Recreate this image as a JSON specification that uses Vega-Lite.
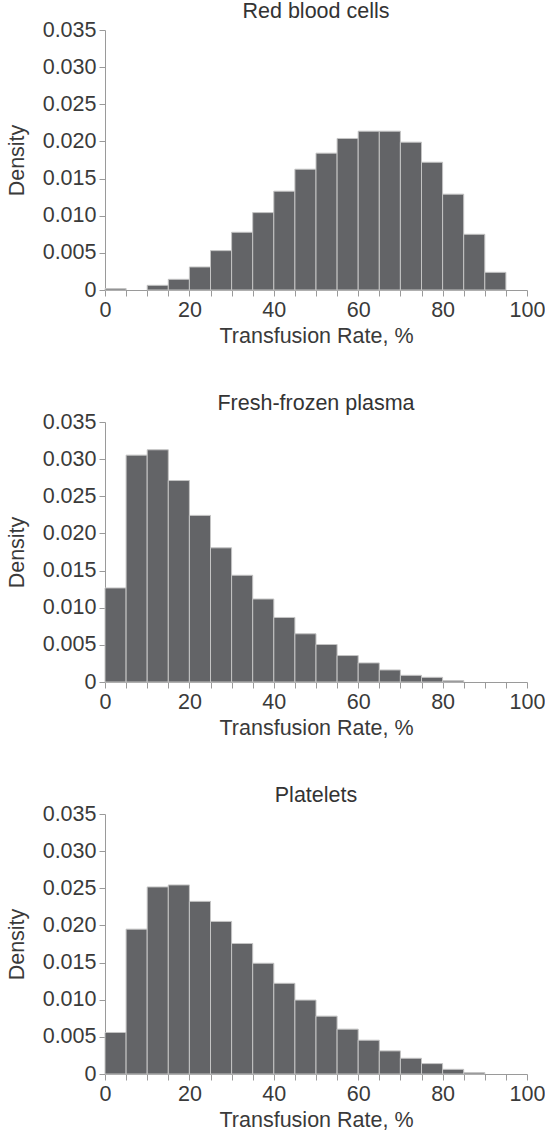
{
  "$schema": "https://vega.github.io/schema/vega-lite/v6.json",
  "background": "white",
  "padding": {"left": 6, "top": 0, "right": 0, "bottom": 0},
  "spacing": 45,
  "config": {
    "font": "Liberation Sans",
    "view": {"stroke": null},
    "title": {"font": "Liberation Sans", "fontSize": 21.5, "fontWeight": "normal", "color": "#333333", "offset": -3},
    "axis": {
      "labelFont": "Liberation Sans", "labelFontSize": 21.5, "labelColor": "#3a3a3a",
      "titleFont": "Liberation Sans", "titleFontSize": 21.5, "titleFontWeight": "normal", "titleColor": "#3a3a3a",
      "domainColor": "#9a9a9a", "tickColor": "#9a9a9a", "tickSize": 6, "grid": false, "labelPadding": 3
    },
    "axisY": {"titlePadding": 14},
    "axisX": {"titlePadding": 5},
    "bar": {"fill": "#636467", "stroke": "#c4c4c4", "strokeWidth": 1}
  },
  "datasets": {
    "hist": [
      {"panel": "rbc", "bin_start": 0, "bin_end": 5, "density": 0.0002},
      {"panel": "rbc", "bin_start": 10, "bin_end": 15, "density": 0.00063},
      {"panel": "rbc", "bin_start": 15, "bin_end": 20, "density": 0.00144},
      {"panel": "rbc", "bin_start": 20, "bin_end": 25, "density": 0.0031},
      {"panel": "rbc", "bin_start": 25, "bin_end": 30, "density": 0.0053},
      {"panel": "rbc", "bin_start": 30, "bin_end": 35, "density": 0.00777},
      {"panel": "rbc", "bin_start": 35, "bin_end": 40, "density": 0.01042},
      {"panel": "rbc", "bin_start": 40, "bin_end": 45, "density": 0.0133},
      {"panel": "rbc", "bin_start": 45, "bin_end": 50, "density": 0.01626},
      {"panel": "rbc", "bin_start": 50, "bin_end": 55, "density": 0.01842},
      {"panel": "rbc", "bin_start": 55, "bin_end": 60, "density": 0.0204},
      {"panel": "rbc", "bin_start": 60, "bin_end": 65, "density": 0.02138},
      {"panel": "rbc", "bin_start": 65, "bin_end": 70, "density": 0.02138},
      {"panel": "rbc", "bin_start": 70, "bin_end": 75, "density": 0.0199},
      {"panel": "rbc", "bin_start": 75, "bin_end": 80, "density": 0.0172},
      {"panel": "rbc", "bin_start": 80, "bin_end": 85, "density": 0.0129},
      {"panel": "rbc", "bin_start": 85, "bin_end": 90, "density": 0.0075},
      {"panel": "rbc", "bin_start": 90, "bin_end": 95, "density": 0.00238},
      {"panel": "ffp", "bin_start": 0, "bin_end": 5, "density": 0.01266},
      {"panel": "ffp", "bin_start": 5, "bin_end": 10, "density": 0.03054},
      {"panel": "ffp", "bin_start": 10, "bin_end": 15, "density": 0.03126},
      {"panel": "ffp", "bin_start": 15, "bin_end": 20, "density": 0.02712},
      {"panel": "ffp", "bin_start": 20, "bin_end": 25, "density": 0.02243},
      {"panel": "ffp", "bin_start": 25, "bin_end": 30, "density": 0.01806},
      {"panel": "ffp", "bin_start": 30, "bin_end": 35, "density": 0.01437},
      {"panel": "ffp", "bin_start": 35, "bin_end": 40, "density": 0.01117},
      {"panel": "ffp", "bin_start": 40, "bin_end": 45, "density": 0.00869},
      {"panel": "ffp", "bin_start": 45, "bin_end": 50, "density": 0.00649},
      {"panel": "ffp", "bin_start": 50, "bin_end": 55, "density": 0.00505},
      {"panel": "ffp", "bin_start": 55, "bin_end": 60, "density": 0.00356},
      {"panel": "ffp", "bin_start": 60, "bin_end": 65, "density": 0.00257},
      {"panel": "ffp", "bin_start": 65, "bin_end": 70, "density": 0.00162},
      {"panel": "ffp", "bin_start": 70, "bin_end": 75, "density": 0.0009},
      {"panel": "ffp", "bin_start": 75, "bin_end": 80, "density": 0.00063},
      {"panel": "ffp", "bin_start": 80, "bin_end": 85, "density": 0.00018},
      {"panel": "plt", "bin_start": 0, "bin_end": 5, "density": 0.00559},
      {"panel": "plt", "bin_start": 5, "bin_end": 10, "density": 0.0195},
      {"panel": "plt", "bin_start": 10, "bin_end": 15, "density": 0.02518},
      {"panel": "plt", "bin_start": 15, "bin_end": 20, "density": 0.02545},
      {"panel": "plt", "bin_start": 20, "bin_end": 25, "density": 0.02324},
      {"panel": "plt", "bin_start": 25, "bin_end": 30, "density": 0.02054},
      {"panel": "plt", "bin_start": 30, "bin_end": 35, "density": 0.01757},
      {"panel": "plt", "bin_start": 35, "bin_end": 40, "density": 0.01491},
      {"panel": "plt", "bin_start": 40, "bin_end": 45, "density": 0.01221},
      {"panel": "plt", "bin_start": 45, "bin_end": 50, "density": 0.00995},
      {"panel": "plt", "bin_start": 50, "bin_end": 55, "density": 0.00779},
      {"panel": "plt", "bin_start": 55, "bin_end": 60, "density": 0.00604},
      {"panel": "plt", "bin_start": 60, "bin_end": 65, "density": 0.00455},
      {"panel": "plt", "bin_start": 65, "bin_end": 70, "density": 0.00311},
      {"panel": "plt", "bin_start": 70, "bin_end": 75, "density": 0.00212},
      {"panel": "plt", "bin_start": 75, "bin_end": 80, "density": 0.0014},
      {"panel": "plt", "bin_start": 80, "bin_end": 85, "density": 0.00063},
      {"panel": "plt", "bin_start": 85, "bin_end": 90, "density": 0.00018}
    ]
  },
  "vconcat": [
    {
      "title": "Red blood cells",
      "width": 422, "height": 260,
      "data": {"name": "hist"},
      "transform": [{"filter": "datum.panel === 'rbc'"}],
      "mark": {"type": "bar"},
      "encoding": {
        "x": {"field": "bin_start", "type": "quantitative", "scale": {"domain": [0, 100], "nice": false},
              "axis": {"title": "Transfusion Rate, %", "values": [0,5,10,15,20,25,30,35,40,45,50,55,60,65,70,75,80,85,90,95,100],
                       "labelExpr": "datum.value % 20 === 0 ? datum.label : ''", "labelFlush": false}},
        "x2": {"field": "bin_end"},
        "y": {"field": "density", "type": "quantitative", "scale": {"domain": [0, 0.035], "nice": false},
              "axis": {"title": "Density", "values": [0,0.005,0.01,0.015,0.02,0.025,0.03,0.035],
                       "labelExpr": "datum.value === 0 ? '0' : format(datum.value, '.3f')", "labelFlush": false}},
        "y2": {"datum": 0}
      }
    },
    {
      "title": "Fresh-frozen plasma",
      "width": 422, "height": 260,
      "data": {"name": "hist"},
      "transform": [{"filter": "datum.panel === 'ffp'"}],
      "mark": {"type": "bar"},
      "encoding": {
        "x": {"field": "bin_start", "type": "quantitative", "scale": {"domain": [0, 100], "nice": false},
              "axis": {"title": "Transfusion Rate, %", "values": [0,5,10,15,20,25,30,35,40,45,50,55,60,65,70,75,80,85,90,95,100],
                       "labelExpr": "datum.value % 20 === 0 ? datum.label : ''", "labelFlush": false}},
        "x2": {"field": "bin_end"},
        "y": {"field": "density", "type": "quantitative", "scale": {"domain": [0, 0.035], "nice": false},
              "axis": {"title": "Density", "values": [0,0.005,0.01,0.015,0.02,0.025,0.03,0.035],
                       "labelExpr": "datum.value === 0 ? '0' : format(datum.value, '.3f')", "labelFlush": false}},
        "y2": {"datum": 0}
      }
    },
    {
      "title": "Platelets",
      "width": 422, "height": 260,
      "data": {"name": "hist"},
      "transform": [{"filter": "datum.panel === 'plt'"}],
      "mark": {"type": "bar"},
      "encoding": {
        "x": {"field": "bin_start", "type": "quantitative", "scale": {"domain": [0, 100], "nice": false},
              "axis": {"title": "Transfusion Rate, %", "values": [0,5,10,15,20,25,30,35,40,45,50,55,60,65,70,75,80,85,90,95,100],
                       "labelExpr": "datum.value % 20 === 0 ? datum.label : ''", "labelFlush": false}},
        "x2": {"field": "bin_end"},
        "y": {"field": "density", "type": "quantitative", "scale": {"domain": [0, 0.035], "nice": false},
              "axis": {"title": "Density", "values": [0,0.005,0.01,0.015,0.02,0.025,0.03,0.035],
                       "labelExpr": "datum.value === 0 ? '0' : format(datum.value, '.3f')", "labelFlush": false}},
        "y2": {"datum": 0}
      }
    }
  ]
}
